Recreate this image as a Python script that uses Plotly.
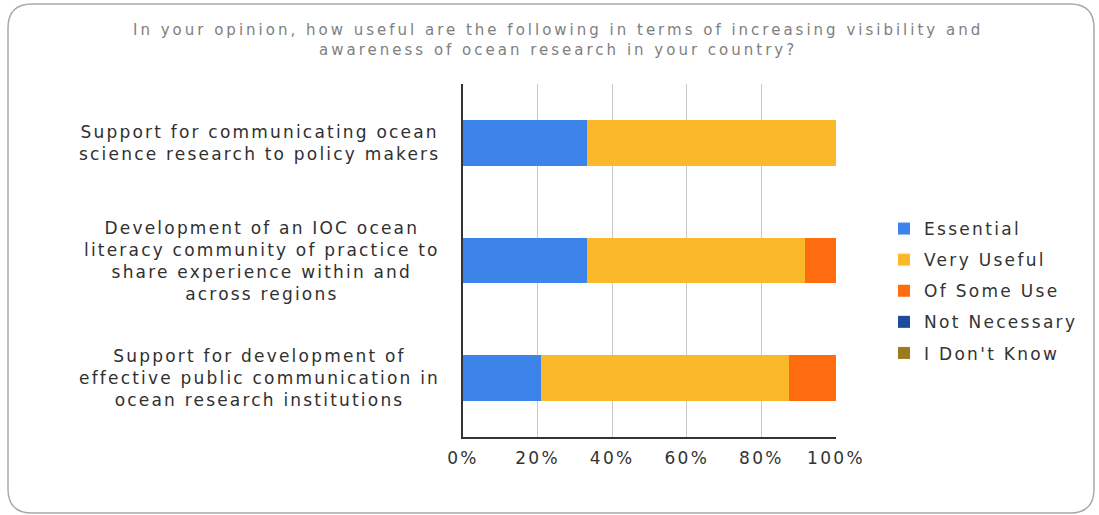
import plotly.graph_objects as go

# Survey question and response categories
title_lines = [
    "In your opinion, how useful are the following in terms of increasing visibility and",
    "awareness of ocean research in your country?",
]
categories = [
    "Support for communicating ocean<br>science research to policy makers",
    "Development of an IOC ocean<br>literacy community of practice to<br>share experience within and<br>across regions",
    "Support for development of<br>effective public communication in<br>ocean research institutions",
]
series_names = ["Essential", "Very Useful", "Of Some Use", "Not Necessary", "I Don't Know"]
essential = [33.3, 33.3, 20.8]
very_useful = [66.7, 58.4, 66.7]
of_some_use = [0.0, 8.3, 12.5]
not_necessary = [0.0, 0.0, 0.0]
dont_know = [0.0, 0.0, 0.0]
tick_values = [0, 20, 40, 60, 80, 100]
tick_labels = ["0%", "20%", "40%", "60%", "80%", "100%"]

colors = ["#3c84ea", "#fbb829", "#ff6c10", "#1d4b9c", "#9b7b1e"]
series_values = [essential, very_useful, of_some_use, not_necessary, dont_know]

W, H = 1099, 515
M_L, M_R, M_T, M_B = 463, 263, 84, 78
PW, PH = W - M_L - M_R, H - M_T - M_B

FONT = "DejaVu Sans"


def spaced(text, px):
    return f'<span style="letter-spacing:{px}px">{text}</span>'


def px_x(x):
    return (x - M_L) / PW


def px_y(y):
    return (H - M_B - y) / PH


slot = list(range(len(categories)))

fig = go.Figure()
for name, vals, col in zip(series_names, series_values, colors):
    fig.add_trace(go.Bar(
        y=slot, x=vals, name=spaced(name, 2.3), orientation="h",
        marker=dict(color=col, line=dict(width=0)),
        legendgroup=name,
    ))

# Category labels, centred line by line, right edge just left of the axis
for i, cat in enumerate(categories):
    lines = cat.split("<br>")
    fig.add_annotation(
        xref="paper", yref="y", x=px_x(442), y=i,
        xanchor="right", yanchor="middle", align="center", showarrow=False,
        text="<br>".join(spaced(t, 2.2) for t in lines),
        font=dict(family=FONT, size=17, color="#303030"),
    )

# Chart title, two centred lines
fig.add_annotation(
    xref="paper", yref="paper", x=px_x(558), y=px_y(19),
    xanchor="center", yanchor="top", align="center", showarrow=False,
    text="<br>".join(spaced(t, 3.0) for t in title_lines),
    font=dict(family=FONT, size=15, color="#808080"),
)

# Rounded outer frame
x0, x1, y0, y1, r = px_x(8), px_x(1094), px_y(4), px_y(513), 24
rx, ry = r / PW, r / PH
frame = (
    f"M {x0},{y0 - ry} Q {x0},{y0} {x0 + rx},{y0} "
    f"L {x1 - rx},{y0} Q {x1},{y0} {x1},{y0 - ry} "
    f"L {x1},{y1 + ry} Q {x1},{y1} {x1 - rx},{y1} "
    f"L {x0 + rx},{y1} Q {x0},{y1} {x0},{y1 + ry} Z"
)
fig.add_shape(type="path", path=frame, xref="paper", yref="paper",
              line=dict(color="#a8a8a8", width=1.5), layer="below")

fig.update_layout(
    width=W, height=H,
    margin=dict(l=M_L, r=M_R, t=M_T, b=M_B),
    paper_bgcolor="white", plot_bgcolor="white",
    barmode="stack", bargap=0.61,
    font=dict(family=FONT, size=16, color="#333333"),
    xaxis=dict(
        range=[0, 100], tickvals=tick_values,
        ticktext=[spaced(t, 2.3) for t in tick_labels],
        showgrid=True, gridcolor="#c8c8c8", gridwidth=1,
        showline=True, linecolor="#333333", linewidth=1.5,
        zeroline=False, ticks="", ticklen=0, ticklabelstandoff=5,
        tickfont=dict(family=FONT, size=17, color="#333333"),
        fixedrange=True,
    ),
    yaxis=dict(
        range=[2.5, -0.5], tickvals=slot, showticklabels=False,
        showgrid=False, zeroline=False,
        showline=True, linecolor="#333333", linewidth=1.5,
        fixedrange=True,
    ),
    legend=dict(
        x=px_x(884), xanchor="left", y=px_y(211), yanchor="top",
        font=dict(family=FONT, size=17, color="#333333"),
        tracegroupgap=6, traceorder="grouped",
        bgcolor="rgba(0,0,0,0)",
    ),
    showlegend=True,
)

fig.write_html("out.html")
